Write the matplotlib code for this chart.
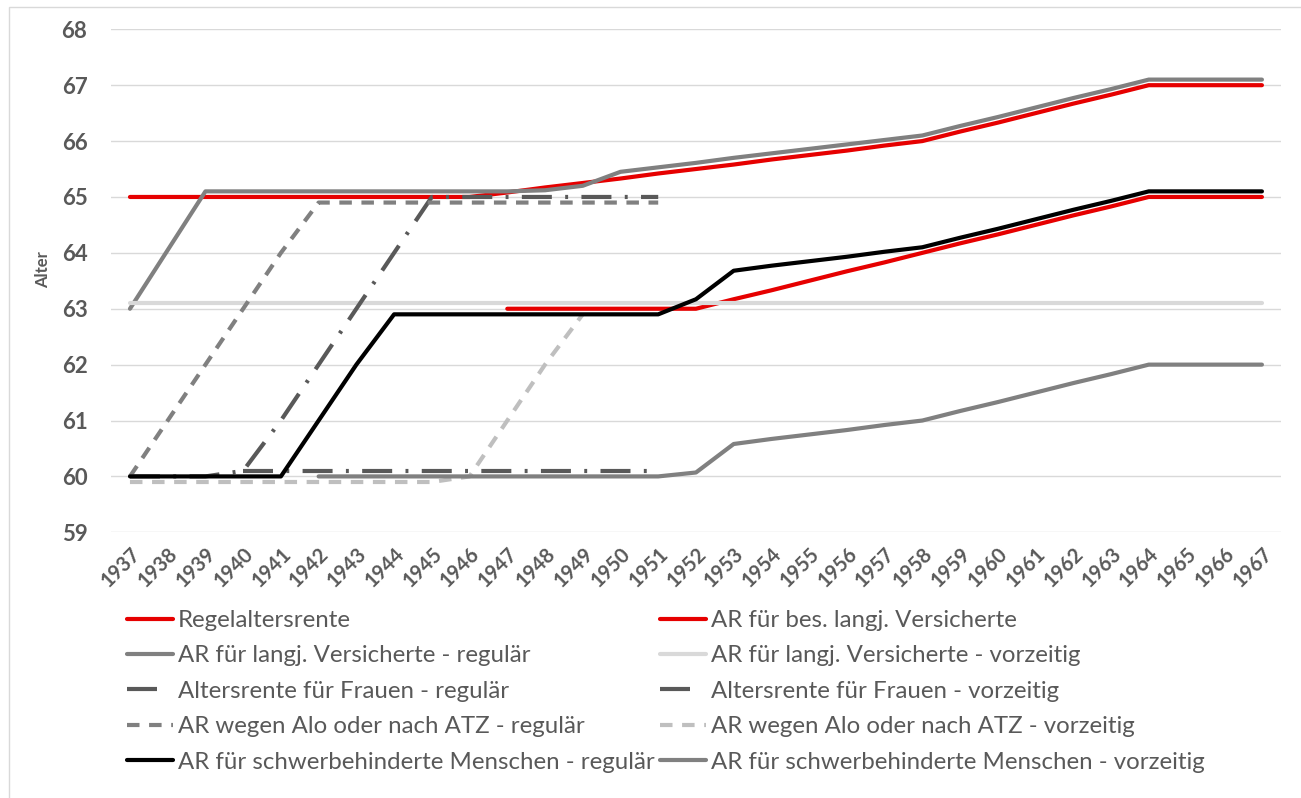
import matplotlib.pyplot as plt
from matplotlib.patches import Rectangle
from matplotlib.lines import Line2D
from matplotlib.transforms import ScaledTranslation
import numpy as np

plt.rcParams['font.family'] = ['Lato', 'DejaVu Sans']

N = None
years = [str(y) for y in range(1937, 1968)]
y_ticks = [59, 60, 61, 62, 63, 64, 65, 66, 67, 68]

# Werte je Geburtsjahrgang 1937..1967 (None = keine Angabe)
regelaltersrente = [65, 65, 65, 65, 65, 65, 65, 65, 65, 65,
                    65.08, 65.17, 65.25, 65.33, 65.42, 65.5, 65.58, 65.67, 65.75, 65.83, 65.92, 66,
                    66.17, 66.33, 66.5, 66.67, 66.83, 67, 67, 67, 67]
bes_langj = [N, N, N, N, N, N, N, N, N, N,
             63, 63, 63, 63, 63, 63, 63.17, 63.33, 63.5, 63.67, 63.83, 64,
             64.17, 64.33, 64.5, 64.67, 64.83, 65, 65, 65, 65]
langj_regulaer = [63, 64.05, 65.1, 65.1, 65.1, 65.1, 65.1, 65.1, 65.1, 65.1,
                  65.1, 65.12, 65.2, 65.45, 65.53, 65.61, 65.7, 65.78, 65.86, 65.94, 66.02, 66.1,
                  66.27, 66.43, 66.6, 66.77, 66.93, 67.1, 67.1, 67.1, 67.1]
langj_vorzeitig = [63.1, 63.1, 63.1, 63.1, 63.1, 63.1, 63.1, 63.1, 63.1, 63.1,
                   63.1, 63.1, 63.1, 63.1, 63.1, 63.1, 63.1, 63.1, 63.1, 63.1, 63.1, 63.1,
                   63.1, 63.1, 63.1, 63.1, 63.1, 63.1, 63.1, 63.1, 63.1]
frauen_regulaer = [60, 60, 60, 60.1, 61, 62, 63, 64, 65, 65,
                   65, 65, 65, 65, 65, N, N, N, N, N, N, N,
                   N, N, N, N, N, N, N, N, N]
frauen_vorzeitig = [N, N, N, 60.1, 60.1, 60.1, 60.1, 60.1, 60.1, 60.1,
                    60.1, 60.1, 60.1, 60.1, 60.1, N, N, N, N, N, N, N,
                    N, N, N, N, N, N, N, N, N]
alo_regulaer = [60, 61, 62, 63, 64, 64.9, 64.9, 64.9, 64.9, 64.9,
                64.9, 64.9, 64.9, 64.9, 64.9, N, N, N, N, N, N, N,
                N, N, N, N, N, N, N, N, N]
alo_vorzeitig = [59.9, 59.9, 59.9, 59.9, 59.9, 59.9, 59.9, 59.9, 59.9, 60,
                 61, 62, 62.9, N, N, N, N, N, N, N, N, N,
                 N, N, N, N, N, N, N, N, N]
schwerb_regulaer = [60, 60, 60, 60, 60, 61, 62, 62.9, 62.9, 62.9,
                    62.9, 62.9, 62.9, 62.9, 62.9, 63.17, 63.68, 63.77, 63.85, 63.93, 64.02, 64.1,
                    64.27, 64.43, 64.6, 64.77, 64.93, 65.1, 65.1, 65.1, 65.1]
schwerb_vorzeitig = [N, N, N, N, N, 60, 60, 60, 60, 60,
                     60, 60, 60, 60, 60, 60.07, 60.58, 60.67, 60.75, 60.83, 60.92, 61,
                     61.17, 61.33, 61.5, 61.67, 61.83, 62, 62, 62, 62]

labels = ['Regelaltersrente', 'AR für bes. langj. Versicherte',
          'AR für langj. Versicherte - regulär', 'AR für langj. Versicherte - vorzeitig',
          'Altersrente für Frauen - regulär', 'Altersrente für Frauen - vorzeitig',
          'AR wegen Alo oder nach ATZ - regulär', 'AR wegen Alo oder nach ATZ - vorzeitig',
          'AR für schwerbehinderte Menschen - regulär', 'AR für schwerbehinderte Menschen - vorzeitig']
data = [regelaltersrente, bes_langj, langj_regulaer, langj_vorzeitig,
        frauen_regulaer, frauen_vorzeitig, alo_regulaer, alo_vorzeitig,
        schwerb_regulaer, schwerb_vorzeitig]

# Farbe, Strichmuster
dashdot = (7.2, 3.2, 0.7, 3.2)
dashed = (3.0, 2.3)
styles = [('#e60000', None), ('#e60000', None),
          ('#808080', None), ('#d9d9d9', None),
          ('#595959', dashdot), ('#595959', dashdot),
          ('#808080', dashed), ('#bfbfbf', dashed),
          ('#000000', None), ('#808080', None)]

txt = '#595959'
fig = plt.figure(figsize=(13.01, 7.98), dpi=100)
ax = fig.add_axes([111.1 / 1301, 1 - 532.3 / 798, 1169.7 / 1301, 503 / 798])

x = np.arange(len(years))
handles = []
for i, (vals, lab, (col, dsh)) in enumerate(zip(data, labels, styles)):
    y = np.array([np.nan if v is None else v for v in vals], dtype=float)
    line, = ax.plot(x, y, color=col, lw=3, label=lab, zorder=3 + i,
                    solid_capstyle='round', solid_joinstyle='round')
    if dsh is not None:
        line.set_dashes(dsh)
    if dsh is dashdot:
        # in der Legende ist nur ein Strich zu sehen
        proxy = Line2D([], [], color=col, lw=3, dashes=(7.2, 10))
        handles.append(proxy)
    else:
        handles.append(line)

ax.set_xlim(-0.5, len(years) - 0.5)
ax.set_ylim(59, 68)
ax.set_yticks(y_ticks)
ax.set_yticklabels([str(t) for t in y_ticks], fontsize=16, fontweight='bold', color=txt)
ax.set_xticks(x)
ax.set_xticklabels(years, rotation=45, ha='right', va='top', rotation_mode='anchor',
                   fontsize=14.5, fontweight='bold', color=txt)
shift = ScaledTranslation(9 / 100, 0, fig.dpi_scale_trans)
for lbl in ax.get_xticklabels():
    lbl.set_transform(lbl.get_transform() + shift)
ax.tick_params(axis='y', length=0, pad=17)
ax.tick_params(axis='x', length=0, pad=8)
ax.grid(axis='y', color='#d9d9d9', lw=1)
for s in ax.spines.values():
    s.set_visible(False)

fig.text(43 / 1301, 1 - 270 / 798, 'Alter', rotation=90, ha='center', va='center',
         fontsize=12, fontweight='bold', color=txt)

# Legende in zwei Spalten
leg_kw = dict(loc='upper left', frameon=False, fontsize=17.3, handlelength=1.92,
              handletextpad=0.2, labelspacing=0.6, borderpad=0, borderaxespad=0,
              labelcolor=txt)
fig.legend(handles[0::2], labels[0::2], bbox_to_anchor=(127 / 1301, 1 - 610 / 798), **leg_kw)
fig.legend(handles[1::2], labels[1::2], bbox_to_anchor=(660 / 1301, 1 - 610 / 798), **leg_kw)

fig.patches.append(Rectangle((9 / 1301, -0.1), 1.2, 1 - 7 / 798 + 0.1, transform=fig.transFigure,
                             fill=False, edgecolor='#d9d9d9', lw=1))

plt.savefig('out.png', dpi=100)
